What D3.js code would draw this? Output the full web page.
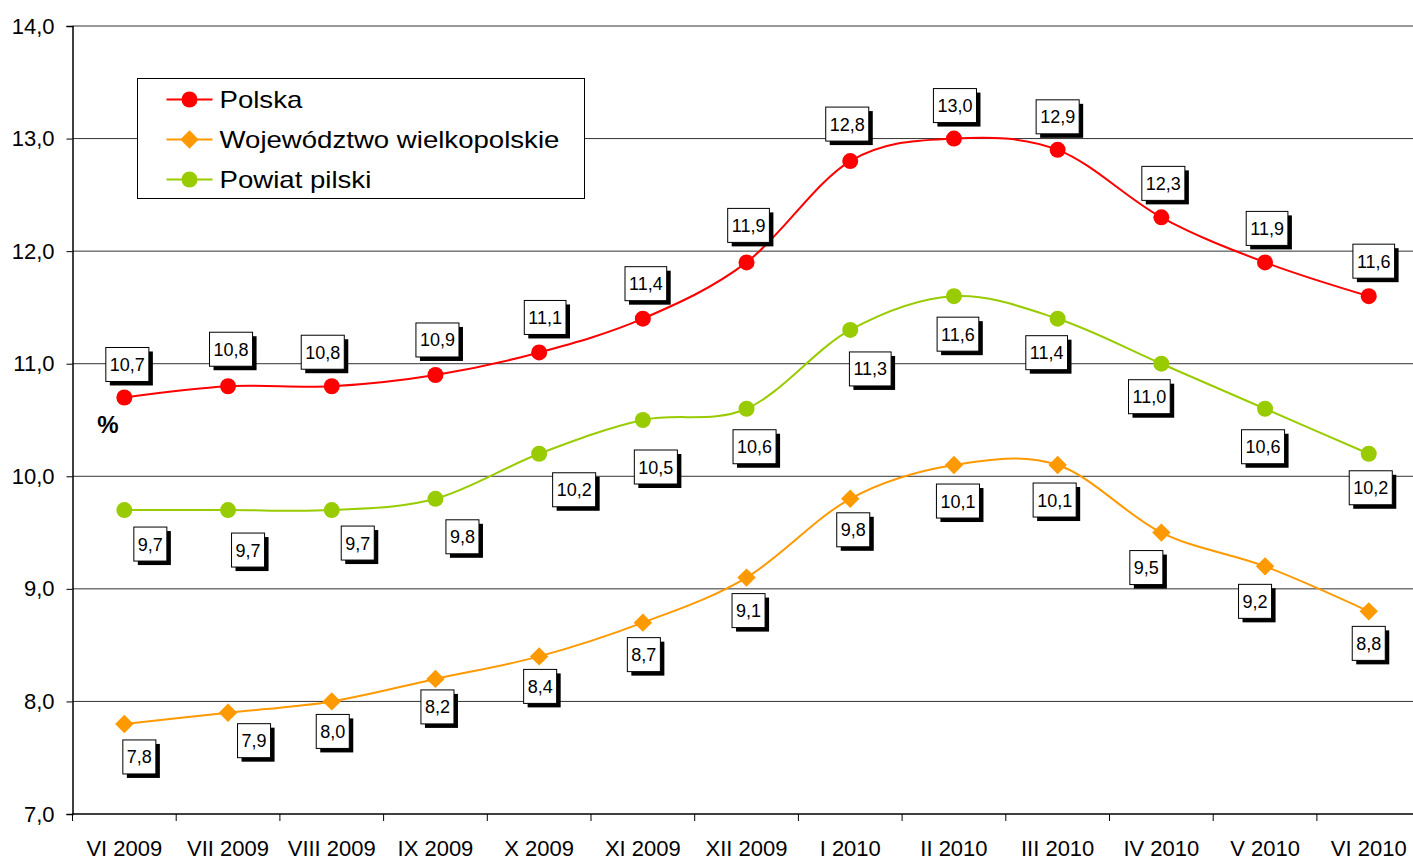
<!DOCTYPE html>
<html>
<head>
<meta charset="utf-8">
<script src="https://cdn.jsdelivr.net/npm/d3@7"></script>
<style>
  body { margin: 0; background: #fff; }
  svg { display: block; font-family: "Liberation Sans", Arial, sans-serif; }
</style>
</head>
<body>
<svg id="chart"></svg>
<script>
// data
var months = ["VI 2009", "VII 2009", "VIII 2009", "IX 2009", "X 2009", "XI 2009", "XII 2009",
              "I 2010", "II 2010", "III 2010", "IV 2010", "V 2010", "VI 2010"];
var polska = [10.7, 10.8, 10.8, 10.9, 11.1, 11.4, 11.9, 12.8, 13.0, 12.9, 12.3, 11.9, 11.6];
var wojewodztwo = [7.8, 7.9, 8.0, 8.2, 8.4, 8.7, 9.1, 9.8, 10.1, 10.1, 9.5, 9.2, 8.8];
var powiat = [9.7, 9.7, 9.7, 9.8, 10.2, 10.5, 10.6, 11.3, 11.6, 11.4, 11.0, 10.6, 10.2];
var yTicks = [7, 8, 9, 10, 11, 12, 13, 14];

// label box offsets (layout only), box centre relative to the point
var offPolska = [[3,-33],[3,-37],[-9,-34],[2,-35],[6,-35],[3,-35],[2,-37],[-3,-37],[1,-33],[0,-33],[2,-34],[2,-34],[5,-35]];
var offWoj = [[15,33],[26,28],[1,30],[2,28],[1,30],[1,32],[2,33],[3,31],[4,36],[-3,35],[-15,35],[-10,35],[0,32]];
var offPowiat = [[26,34],[20,40],[26,33],[27,38],[35,36],[13,47],[8,38],[20,39],[4,38],[-11,34],[-12,33],[-2,38],[2,34]];

var W = 1413, H = 860;
var mLeft = 72.5, mTop = 26, mBottom = 814, band = 103.7;

var svg = d3.select("#chart").attr("width", W).attr("height", H);

var x = d3.scaleBand().domain(months).range([mLeft, mLeft + band * months.length]);
var y = d3.scaleLinear().domain([7, 14]).range([mBottom, mTop]);
var cx = d => x(d) + x.bandwidth() / 2;
var fmt = v => d3.format(".1f")(v).replace(".", ",");

// gridlines
svg.append("g").selectAll("line")
  .data(yTicks.slice(1))
  .enter().append("line")
    .attr("x1", mLeft).attr("x2", W)
    .attr("y1", d => y(d)).attr("y2", d => y(d))
    .attr("stroke", "#333").attr("stroke-width", 1);

// y axis
var yAxis = d3.axisLeft(y).tickValues(yTicks).tickSize(6).tickPadding(12).tickFormat(fmt);
svg.append("g").attr("transform", "translate(" + mLeft + ",0)").call(yAxis)
  .call(g => g.select(".domain").attr("stroke", "#000").attr("stroke-width", 1.5))
  .call(g => g.selectAll(".tick line").attr("stroke", "#000"))
  .call(g => g.selectAll("text").attr("font-size", 22).attr("font-family", "Liberation Sans, Arial").attr("fill", "#000"));

// x axis: ticks at band boundaries
var xg = svg.append("g");
xg.append("line").attr("x1", mLeft).attr("x2", W).attr("y1", mBottom).attr("y2", mBottom)
  .attr("stroke", "#000").attr("stroke-width", 1.5);
xg.selectAll(".xt").data(months).enter().append("line")
  .attr("x1", d => x(d)).attr("x2", d => x(d))
  .attr("y1", mBottom).attr("y2", mBottom + 7).attr("stroke", "#000");
xg.selectAll(".xl").data(months).enter().append("text")
  .attr("x", d => cx(d)).attr("y", 856)
  .attr("text-anchor", "middle").attr("font-size", 22).text(d => d);

// "%" unit
svg.append("text").attr("x", 108).attr("y", 433).attr("text-anchor", "middle")
  .attr("font-size", 24).attr("font-weight", "bold").text("%");

var series = [
  { name: "Polska", values: polska, color: "#ff0000", shape: "circle", off: offPolska },
  { name: "Województwo wielkopolskie", values: wojewodztwo, color: "#ff9900", shape: "diamond", off: offWoj },
  { name: "Powiat pilski", values: powiat, color: "#99cc00", shape: "circle", off: offPowiat }
];

var line = d3.line()
  .x((d, i) => cx(months[i]))
  .y(d => y(d))
  .curve(d3.curveCardinal.tension(0));

var circleSym = d3.symbol().type(d3.symbolCircle).size(Math.PI * 8 * 8);
var diamondSym = d3.symbol().type(d3.symbolSquare).size(13 * 13);

function marker(g, s) {
  if (s.shape === "circle") {
    g.append("path").attr("d", circleSym()).attr("fill", s.color);
  } else {
    g.append("path").attr("d", diamondSym()).attr("transform", "rotate(45)").attr("fill", s.color);
  }
}

series.forEach(function(s) {
  svg.append("path").datum(s.values)
    .attr("d", line).attr("fill", "none")
    .attr("stroke", s.color).attr("stroke-width", 2);
  s.values.forEach(function(v, i) {
    var g = svg.append("g").attr("transform", "translate(" + cx(months[i]) + "," + y(v) + ")");
    marker(g, s);
  });
});

// data labels
series.forEach(function(s) {
  s.values.forEach(function(v, i) {
    var px = cx(months[i]) + s.off[i][0], py = y(v) + s.off[i][1];
    var g = svg.append("g").attr("transform", "translate(" + px + "," + py + ")");
    var txt = g.append("text").attr("text-anchor", "middle").attr("y", 6.5)
      .attr("font-size", 18).text(fmt(v));
    var w = txt.node().getComputedTextLength() + 8, h = 34;
    g.insert("rect", "text").attr("x", -w / 2 + 4).attr("y", -h / 2 + 4).attr("width", w).attr("height", h)
      .attr("fill", "#000");
    g.insert("rect", "text").attr("x", -w / 2).attr("y", -h / 2).attr("width", w).attr("height", h)
      .attr("fill", "#fff").attr("stroke", "#000").attr("stroke-width", 1);
  });
});

// legend
var lg = svg.append("g").attr("transform", "translate(137.5,78.5)");
lg.append("rect").attr("width", 447).attr("height", 120)
  .attr("fill", "#fff").attr("stroke", "#000").attr("stroke-width", 1);
series.forEach(function(s, i) {
  var row = lg.append("g").attr("transform", "translate(0," + (21 + i * 40) + ")");
  row.append("line").attr("x1", 29).attr("x2", 75).attr("stroke", s.color).attr("stroke-width", 2);
  var m = row.append("g").attr("transform", "translate(52,0)");
  marker(m, s);
  row.append("text").attr("transform", "translate(82,8) scale(1.2,1)")
    .attr("font-size", 23).text(s.name);
});
</script>
</body>
</html>
